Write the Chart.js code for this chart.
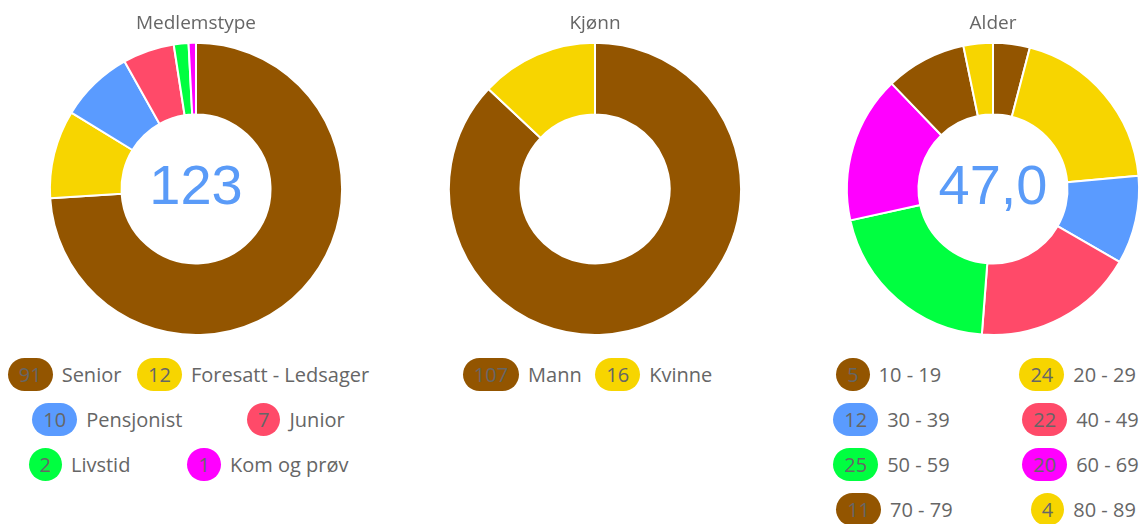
<!DOCTYPE html>
<html lang="no">
<head>
<meta charset="utf-8">
<title>Medlemsstatistikk</title>
<script src="https://cdn.jsdelivr.net/npm/chart.js@4.4.1/dist/chart.umd.min.js"></script>
<style>
    html, body {
        margin: 0;
        padding: 0;
        background: #fff;
        overflow: hidden;
        width: 1143px;
        height: 524px;
    }
    .col {
        position: absolute;
        top: 0;
        width: 377px;
    }
    .chart-box {
        position: relative;
        margin-left: 15px;
        width: 362px;
        height: 336px;
    }
    .legend {
        margin: 22px auto 0 auto;
        font-family: "Open Sans", sans-serif;
        font-size: 20px;
        color: #666;
    }
    .legend-row {
        display: flex;
        justify-content: space-around;
        height: 33px;
        margin-bottom: 12px;
    }
    .legend-item {
        display: flex;
        align-items: center;
        white-space: nowrap;
    }
    .pill {
        box-sizing: border-box;
        height: 33px;
        min-width: 32px;
        padding: 0 11px;
        border-radius: 17px;
        line-height: 33px;
        text-align: center;
        margin-right: 9px;
    }
</style>
</head>
<body>

<div class="col" style="left: 0px;">
    <div class="chart-box"><canvas id="typeChart"></canvas></div>
    <div class="legend" id="typeLegend" style="width: 377px;"></div>
</div>
<div class="col" style="left: 399px;">
    <div class="chart-box"><canvas id="genderChart"></canvas></div>
    <div class="legend" id="genderLegend" style="width: 263px;"></div>
</div>
<div class="col" style="left: 797px;">
    <div class="chart-box"><canvas id="ageChart"></canvas></div>
    <div class="legend" id="ageLegend" style="width: 378px;"></div>
</div>

<script>
// --- Data ---
const typeLabels = ['Senior', 'Foresatt - Ledsager', 'Pensjonist', 'Junior', 'Livstid', 'Kom og prøv'];
const typeCounts = [91, 12, 10, 7, 2, 1];
const typeColors = ['#935500', '#f7d500', '#5a9bff', '#ff4a69', '#00ff40', '#ff00ff'];
const typeCenterText = '123';

const genderLabels = ['Mann', 'Kvinne'];
const genderCounts = [107, 16];
const genderColors = ['#935500', '#f7d500'];

const ageLabels = ['10 - 19', '20 - 29', '30 - 39', '40 - 49', '50 - 59', '60 - 69', '70 - 79', '80 - 89'];
const ageCounts = [5, 24, 12, 22, 25, 20, 11, 4];
const ageColors = ['#935500', '#f7d500', '#5a9bff', '#ff4a69', '#00ff40', '#ff00ff', '#935500', '#f7d500'];
const ageCenterText = '47,0';

// --- Center text plugin ---
const centerTextPlugin = {
    id: 'centerText',
    afterDraw(chart, args, opts) {
        if (!opts.text) return;
        const area = chart.chartArea;
        const ctx = chart.ctx;
        const cx = (area.left + area.right) / 2;
        const cy = (area.top + area.bottom) / 2;
        ctx.save();
        ctx.font = '56px "Liberation Sans", Arial, sans-serif';
        ctx.fillStyle = '#5a9bf8';
        ctx.textAlign = 'center';
        ctx.textBaseline = 'alphabetic';
        ctx.fillText(opts.text, cx, cy + 15);
        ctx.restore();
    }
};

function makeDoughnut(canvasId, title, labels, values, colors, centerText) {
    const ctx = document.getElementById(canvasId).getContext('2d');
    return new Chart(ctx, {
        type: 'doughnut',
        data: {
            labels: labels,
            datasets: [{
                data: values,
                backgroundColor: colors,
                borderColor: '#fff',
                borderWidth: 2
            }]
        },
        options: {
            responsive: true,
            maintainAspectRatio: false,
            animation: false,
            cutout: '51%',
            layout: { padding: 0 },
            plugins: {
                legend: { display: false },
                tooltip: { enabled: false },
                title: {
                    display: true,
                    text: title,
                    color: '#666',
                    font: { family: '"Open Sans", sans-serif', size: 19, weight: 'normal' },
                    padding: { top: 12, bottom: 7 }
                },
                centerText: { text: centerText }
            }
        },
        plugins: [centerTextPlugin]
    });
}

// --- Legend (pairs per row) ---
function buildLegend(elId, labels, values, colors) {
    const el = document.getElementById(elId);
    let html = '';
    for (let i = 0; i < labels.length; i += 2) {
        html += '<div class="legend-row">';
        for (let j = i; j < Math.min(i + 2, labels.length); j++) {
            html += '<div class="legend-item">' +
                '<span class="pill" style="background:' + colors[j] + ';">' + values[j] + '</span>' +
                '<span>' + labels[j] + '</span></div>';
        }
        html += '</div>';
    }
    el.innerHTML = html;
}

makeDoughnut('typeChart', 'Medlemstype', typeLabels, typeCounts, typeColors, typeCenterText);
makeDoughnut('genderChart', 'Kjønn', genderLabels, genderCounts, genderColors, null);
makeDoughnut('ageChart', 'Alder', ageLabels, ageCounts, ageColors, ageCenterText);

buildLegend('typeLegend', typeLabels, typeCounts, typeColors);
buildLegend('genderLegend', genderLabels, genderCounts, genderColors);
buildLegend('ageLegend', ageLabels, ageCounts, ageColors);
</script>
</body>
</html>
